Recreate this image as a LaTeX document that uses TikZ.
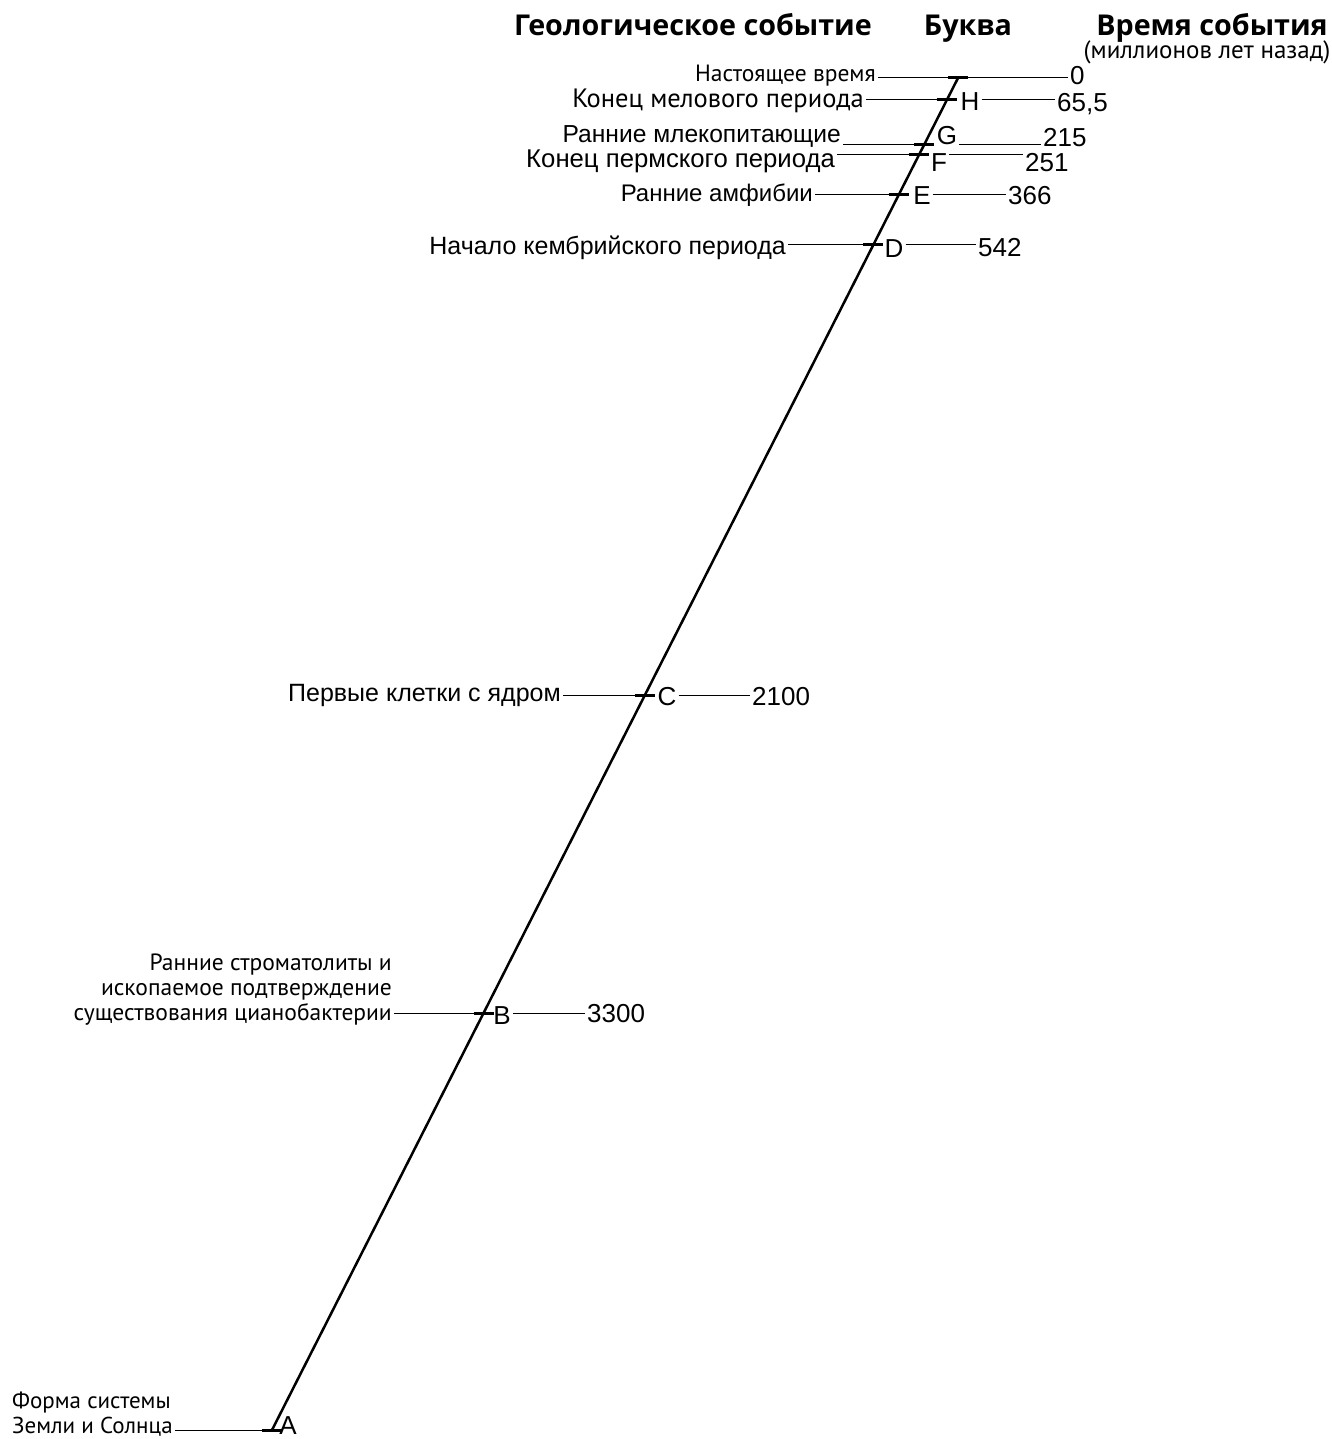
\documentclass[tikz,border=0pt]{standalone}
\usepackage{fontspec}
\setmainfont{Liberation Sans}
\newfontfamily\ptsans{PT Sans}
\newfontfamily\opensans{Open Sans}
\usetikzlibrary{positioning,calc}
\tikzstyle{event} = [anchor=east, inner sep=2pt, align=right, font=\fontsize{25}{25}\selectfont]
\tikzstyle{letter} = [inner sep=2pt, font=\fontsize{26}{26}\selectfont]
\tikzstyle{age} = [anchor=west, inner sep=2pt, font=\fontsize{26}{26}\selectfont]
\tikzstyle{header} = [anchor=base, inner sep=0pt, font=\opensans\bfseries\fontsize{28.7}{30}\selectfont]
\tikzstyle{axis} = [line width=2.5pt]
\tikzstyle{tickmark} = [line width=3pt]
\tikzstyle{leader} = [line width=1pt]

\begin{document}
\begin{tikzpicture}[x=1pt, y=-1pt]
\useasboundingbox (0,0) rectangle (1332,1439);

% Headers
\node (hevent) [header] at (693,36) {Геологическое событие};
\node (hletter) [header] at (968,36) {Буква};
\node (htime) [header] at (1212,36) {Время события};
\node (hunit) [anchor=base, inner sep=0pt, font=\ptsans\fontsize{25}{25}\selectfont] at (1207,59) {(миллионов лет назад)};

% Time axis
\coordinate (top) at (958,78);
\coordinate (bot) at (272,1430);
\draw[axis] (top) -- (bot);

% Points on the axis
\coordinate (t0) at (958,78);
\coordinate (tH) at (946.8,100);
\coordinate (tG) at (924.0,145);
\coordinate (tF) at (918.9,155);
\coordinate (tE) at (898.6,195);
\coordinate (tD) at (873.3,245);
\coordinate (tC) at (644.9,695);
\coordinate (tB) at (483.6,1013);
\coordinate (tA) at (272,1430);

% Ticks
\foreach \t in {t0,tH,tG,tF,tE,tD,tC,tB,tA}
  \draw[tickmark] ([xshift=-10pt]\t) -- ([xshift=10pt]\t);

% Present
\node (e0) [event, font=\ptsans\fontsize{23.5}{25}\selectfont] at (878,76) {Настоящее время};
\node (n0) [age] at (1068,76) {0};
\draw[leader] (e0.east |- t0) -- (n0.west |- t0);

% H
\node (eH) [event, font=\ptsans\fontsize{26.5}{25}\selectfont] at (866,101) {Конец мелового периода};
\node (lH) [letter] at (970,102) {H};
\node (nH) [age] at (1055,104) {65,5};
\draw[leader] (eH.east |- tH) -- (tH);
\draw[leader] (lH.east |- tH) -- (nH.west |- tH);

% G
\node (eG) [event, font=\fontsize{24.6}{25}\selectfont] at (843,136) {Ранние млекопитающие};
\node (lG) [letter] at (947,136) {G};
\node (nG) [age] at (1041,138) {215};
\draw[leader] (eG.east |- tG) -- (tG);
\draw[leader] (lG.east |- tG) -- (nG.west |- tG);

% F
\node (eF) [event, font=\fontsize{25.7}{25}\selectfont] at (837,161) {Конец пермского периода};
\node (lF) [letter] at (939,163) {F};
\node (nF) [age] at (1023,163) {251};
\draw[leader] (eF.east |- tF) -- (tF);
\draw[leader] (lF.east |- tF) -- (nF.west |- tF);

% E
\node (eE) [event, font=\fontsize{24}{25}\selectfont] at (815,195) {Ранние амфибии};
\node (lE) [letter] at (922,196) {E};
\node (nE) [age] at (1006,196) {366};
\draw[leader] (eE.east |- tE) -- (tE);
\draw[leader] (lE.east |- tE) -- (nE.west |- tE);

% D
\node (eD) [event] at (788,248) {Начало кембрийского периода};
\node (lD) [letter] at (894,249) {D};
\node (nD) [age] at (976,248) {542};
\draw[leader] (eD.east |- tD) -- (tD);
\draw[leader] (lD.east |- tD) -- (nD.west |- tD);

% C
\node (eC) [event] at (563,695) {Первые клетки с ядром};
\node (lC) [letter] at (667,697) {C};
\node (nC) [age] at (750,697) {2100};
\draw[leader] (eC.east |- tC) -- (tC);
\draw[leader] (lC.east |- tC) -- (nC.west |- tC);

% B
\node (eB) [event, anchor=base east, font=\ptsans\fontsize{23.5}{25}\selectfont] at (394,1020) {Ранние строматолиты и\\ископаемое подтверждение\\существования цианобактерии};
\node (lB) [letter] at (502,1016) {B};
\node (nB) [age] at (585,1014) {3300};
\draw[leader] (eB.east |- tB) -- (tB);
\draw[leader] (lB.east |- tB) -- (nB.west |- tB);

% A
\node (eA) [event, anchor=south west, align=left, font=\ptsans\fontsize{23}{25}\selectfont] at (10,1439) {Форма системы\\Земли и Солнца};
\node (lA) [letter] at (288,1426) {A};
\draw[leader] (eA.south east |- tA) -- (tA);
\end{tikzpicture}
\end{document}
